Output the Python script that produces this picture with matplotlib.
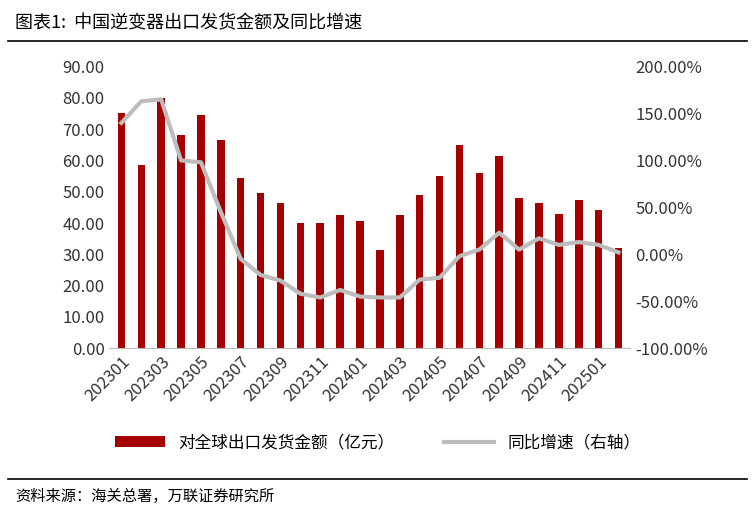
import numpy as np
import matplotlib.pyplot as plt

plt.rcParams['font.family'] = ['Noto Sans CJK SC', 'DejaVu Sans']

months = ['202301', '202302', '202303', '202304', '202305', '202306', '202307', '202308',
          '202309', '202310', '202311', '202312', '202401', '202402', '202403', '202404',
          '202405', '202406', '202407', '202408', '202409', '202410', '202411', '202412',
          '202501', '202502']
amount = [75, 58.5, 80, 68, 74.5, 66.5, 54.5, 49.5, 46.5, 40, 40, 42.5, 40.5, 31.5, 42.5, 49,
          55, 65, 56, 61.5, 48, 46.5, 43, 47.5, 44, 32]
yoy = [140, 163, 165, 100, 98, 45, -5, -22, -28, -42, -46, -38, -45, -46, -46, -27,
       -25, -2, 5, 23, 5, 17, 10, 13, 10, 2]

fig = plt.figure(figsize=(7.55, 5.12), dpi=100)
ax = fig.add_axes([0.145, 0.32, 0.69, 0.55])
x = np.arange(len(months))
ax.bar(x, amount, width=0.38, color='#A50000', label='对全球出口发货金额（亿元）')
ax.set_ylim(0, 90)
ax.set_yticks(np.arange(0, 91, 10))
ax.set_yticklabels(['%.2f' % v for v in np.arange(0, 91, 10)], fontsize=12, color='#333333')
ax.set_xlim(-0.6, len(months) - 0.4)
ax.set_xticks(x[::2])
ax.set_xticklabels(months[::2], rotation=45, ha='right', rotation_mode='anchor', fontsize=12, color='#333333')
for s in ['top', 'right', 'left']:
    ax.spines[s].set_visible(False)
ax.spines['bottom'].set_color('#bbbbbb')
ax.tick_params(length=0)

ax2 = ax.twinx()
ax2.plot(x, yoy, color='#BDBDBD', lw=3, label='同比增速（右轴）')
ax2.set_ylim(-100, 200)
ax2.set_yticks(np.arange(-100, 201, 50))
ax2.set_yticklabels(['%.2f%%' % v for v in np.arange(-100, 201, 50)], fontsize=12, color='#333333')
for s in ax2.spines.values():
    s.set_visible(False)
ax2.tick_params(length=0)

h1, l1 = ax.get_legend_handles_labels()
h2, l2 = ax2.get_legend_handles_labels()
fig.legend(h1 + h2, l1 + l2, loc='center', bbox_to_anchor=(0.5, 0.135), ncol=2, frameon=False,
           fontsize=12, handlelength=3, columnspacing=3)

fig.text(0.02, 0.955, '图表1:  中国逆变器出口发货金额及同比增速', fontsize=13, va='center')
fig.add_artist(plt.Line2D([0.01, 0.99], [0.92, 0.92], color='black', lw=1.2))
fig.add_artist(plt.Line2D([0.01, 0.99], [0.065, 0.065], color='black', lw=1.2))
fig.text(0.02, 0.03, '资料来源：海关总署，万联证券研究所', fontsize=11, va='center', style='italic')

fig.savefig('out.png')
